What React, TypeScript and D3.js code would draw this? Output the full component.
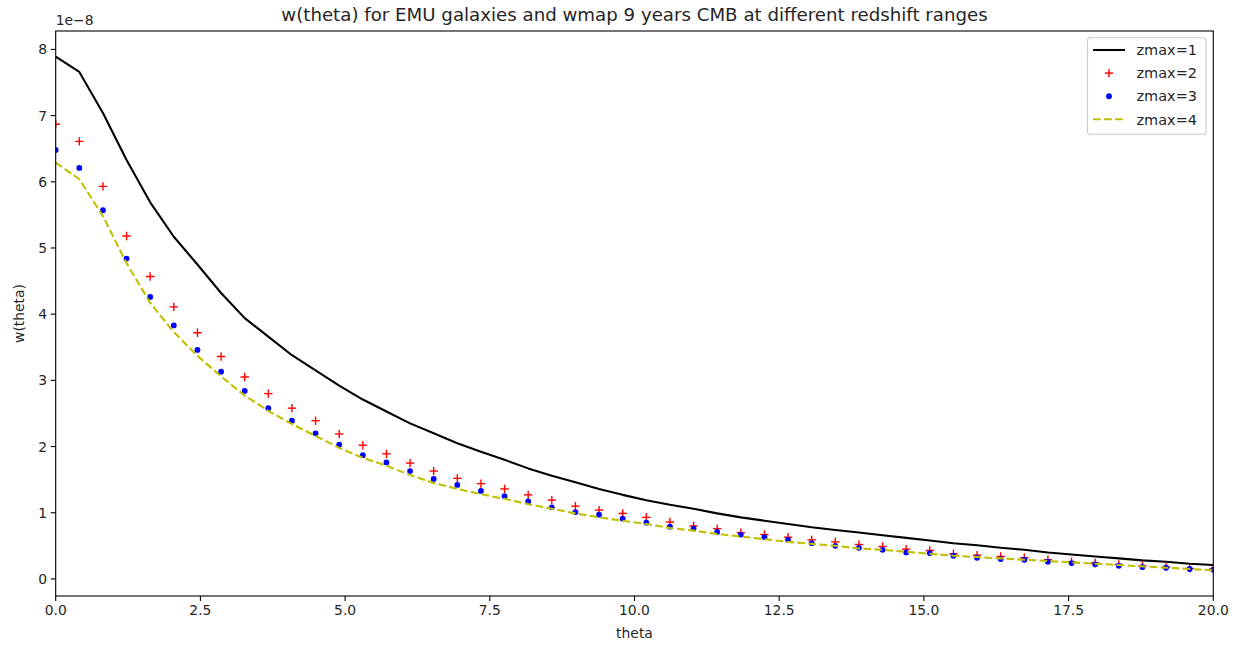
import React from "react";
import * as d3 from "d3";

const N = 50;
const theta: number[] = Array.from({ length: N }, (_, i) => (i * 20) / (N - 1));

const zmax1: number[] = [
  7.89, 7.66, 7.04, 6.33, 5.69, 5.17, 4.75, 4.32, 3.94, 3.66,
  3.38, 3.15, 2.92, 2.71, 2.53, 2.35, 2.2, 2.05, 1.92, 1.8,
  1.67, 1.56, 1.46, 1.36, 1.27, 1.19, 1.12, 1.06, 0.99, 0.93,
  0.88, 0.83, 0.78, 0.74, 0.7, 0.66, 0.62, 0.58, 0.54, 0.51,
  0.47, 0.44, 0.4, 0.37, 0.34, 0.31, 0.28, 0.26, 0.23, 0.21,
];
const zmax2: number[] = [
  6.87, 6.61, 5.93, 5.18, 4.57, 4.11, 3.72, 3.36, 3.05, 2.8,
  2.58, 2.39, 2.19, 2.02, 1.89, 1.75, 1.63, 1.52, 1.44, 1.36,
  1.27, 1.19, 1.1, 1.04, 0.99, 0.93, 0.86, 0.8, 0.76, 0.7,
  0.67, 0.63, 0.59, 0.56, 0.52, 0.49, 0.45, 0.43, 0.38, 0.36,
  0.34, 0.32, 0.29, 0.26, 0.24, 0.22, 0.2, 0.18, 0.16, 0.15,
];
const zmax3: number[] = [
  6.48, 6.21, 5.57, 4.84, 4.26, 3.83, 3.46, 3.13, 2.84, 2.58,
  2.39, 2.2, 2.03, 1.87, 1.76, 1.63, 1.51, 1.42, 1.33, 1.25,
  1.17, 1.08, 1.01, 0.97, 0.91, 0.85, 0.79, 0.76, 0.71, 0.67,
  0.63, 0.59, 0.54, 0.5, 0.47, 0.44, 0.4, 0.39, 0.35, 0.32,
  0.3, 0.29, 0.26, 0.24, 0.22, 0.2, 0.18, 0.17, 0.15, 0.14,
];
const zmax4: number[] = [
  6.29, 6.04, 5.48, 4.77, 4.17, 3.73, 3.37, 3.06, 2.77, 2.54,
  2.34, 2.16, 1.98, 1.83, 1.71, 1.57, 1.45, 1.36, 1.28, 1.21,
  1.13, 1.06, 0.99, 0.93, 0.88, 0.83, 0.77, 0.73, 0.68, 0.64,
  0.6, 0.56, 0.53, 0.5, 0.46, 0.44, 0.41, 0.38, 0.35, 0.33,
  0.31, 0.29, 0.27, 0.25, 0.23, 0.21, 0.19, 0.17, 0.15, 0.13,
];

const xTicks: number[] = [0, 2.5, 5, 7.5, 10, 12.5, 15, 17.5, 20];
const yTicks: number[] = [0, 1, 2, 3, 4, 5, 6, 7, 8];
const legendLabels: string[] = ["zmax=1", "zmax=2", "zmax=3", "zmax=4"];

const W = 1257;
const H = 645;
const L = 55.7;
const R = 1213.3;
const T = 31;
const B = 596;
const FONT = "DejaVu Sans, sans-serif";

export default function App() {
  const allY = [...zmax1, ...zmax2, ...zmax3, ...zmax4];
  const ymin = d3.min(allY)!;
  const ymax = d3.max(allY)!;
  const pad = (ymax - ymin) * 0.05;
  const x = d3.scaleLinear().domain([0, 20]).range([L, R]);
  const y = d3.scaleLinear().domain([ymin - pad, ymax + pad]).range([B, T]);

  const line = d3
    .line<number>()
    .x((_, i) => x(theta[i]))
    .y((d) => y(d));

  const tc = "#262626";
  const lw = 2.08;

  return (
    <div style={{ position: "absolute", left: 0, top: 0 }}>
      <svg width={W} height={H} style={{ display: "block", background: "#fff" }}>
        <defs>
          <clipPath id="axclip">
            <rect x={L} y={T} width={R - L} height={B - T} />
          </clipPath>
        </defs>
        <rect x={0} y={0} width={W} height={H} fill="#fff" />
        <g clipPath="url(#axclip)">
          <path d={line(zmax1) ?? ""} fill="none" stroke="#000" strokeWidth={lw} strokeLinejoin="round" />
          {zmax2.map((v, i) => (
            <g key={"r" + i} stroke="#ff0000" strokeWidth={1.39}>
              <line x1={x(theta[i]) - 4.2} x2={x(theta[i]) + 4.2} y1={y(v)} y2={y(v)} />
              <line x1={x(theta[i])} x2={x(theta[i])} y1={y(v) - 4.2} y2={y(v) + 4.2} />
            </g>
          ))}
          {zmax3.map((v, i) => (
            <circle key={"b" + i} cx={x(theta[i])} cy={y(v)} r={2.9} fill="#0000ff" />
          ))}
          <path
            d={line(zmax4) ?? ""}
            fill="none"
            stroke="#bfbf00"
            strokeWidth={lw}
            strokeDasharray="7.7,3.33"
          />
        </g>
        {/* spines */}
        <rect x={L} y={T} width={R - L} height={B - T} fill="none" stroke="#000" strokeWidth={1.1} />
        {/* x ticks */}
        {xTicks.map((t) => (
          <g key={"xt" + t}>
            <line x1={x(t)} x2={x(t)} y1={B} y2={B + 4.9} stroke="#000" strokeWidth={1.1} />
            <text x={x(t)} y={B + 18.5} textAnchor="middle" fontFamily={FONT} fontSize={13.9} fill={tc}>
              {t.toFixed(1)}
            </text>
          </g>
        ))}
        {/* y ticks */}
        {yTicks.map((t) => (
          <g key={"yt" + t}>
            <line x1={L - 4.9} x2={L} y1={y(t)} y2={y(t)} stroke="#000" strokeWidth={1.1} />
            <text
              x={L - 8.5}
              y={y(t)}
              dy="0.36em"
              textAnchor="end"
              fontFamily={FONT}
              fontSize={13.9}
              fill={tc}
            >
              {String(t)}
            </text>
          </g>
        ))}
        <text x={L} y={25} fontFamily={FONT} fontSize={13.9} fill={tc}>
          1e−8
        </text>
        <text x={(L + R) / 2} y={21} textAnchor="middle" fontFamily={FONT} fontSize={18.2} fill={tc}>
          w(theta) for EMU galaxies and wmap 9 years CMB at different redshift ranges
        </text>
        <text x={(L + R) / 2} y={638} textAnchor="middle" fontFamily={FONT} fontSize={13.9} fill={tc}>
          theta
        </text>
        <text
          transform={`translate(24,${(T + B) / 2}) rotate(-90)`}
          textAnchor="middle"
          fontFamily={FONT}
          fontSize={13.9}
          fill={tc}
        >
          w(theta)
        </text>
        {/* legend */}
        <g>
          <rect
            x={1087.5}
            y={37.7}
            width={118.5}
            height={96.6}
            rx={2.8}
            fill="#fff"
            fillOpacity={0.8}
            stroke="#cccccc"
            strokeWidth={1.1}
          />
          {legendLabels.map((lab, i) => {
            const cy = 50 + i * 23.1;
            const x0 = 1093;
            const x1 = 1125;
            const xm = (x0 + x1) / 2;
            let handle: React.ReactNode = null;
            if (i === 0) handle = <line x1={x0} x2={x1} y1={cy} y2={cy} stroke="#000" strokeWidth={lw} />;
            if (i === 1)
              handle = (
                <g stroke="#ff0000" strokeWidth={1.39}>
                  <line x1={xm - 4.2} x2={xm + 4.2} y1={cy} y2={cy} />
                  <line x1={xm} x2={xm} y1={cy - 4.2} y2={cy + 4.2} />
                </g>
              );
            if (i === 2) handle = <circle cx={xm} cy={cy} r={2.9} fill="#0000ff" />;
            if (i === 3)
              handle = (
                <line x1={x0} x2={x1} y1={cy} y2={cy} stroke="#bfbf00" strokeWidth={lw} strokeDasharray="7.7,3.33" />
              );
            return (
              <g key={lab}>
                {handle}
                <text x={1136.5} y={cy} dy="0.36em" fontFamily={FONT} fontSize={14.5} fill={tc}>
                  {lab}
                </text>
              </g>
            );
          })}
        </g>
      </svg>
    </div>
  );
}
